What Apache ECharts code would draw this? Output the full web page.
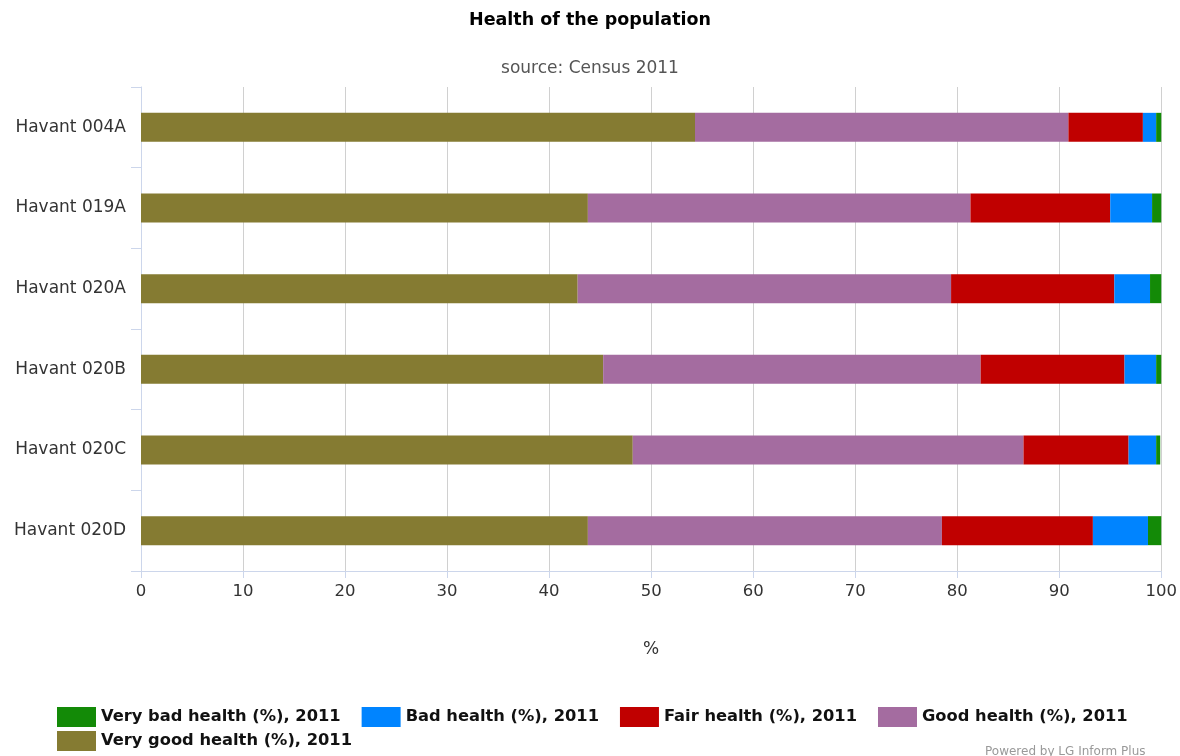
<!DOCTYPE html>
<html>
<head>
<meta charset="utf-8">
<script src="https://cdn.jsdelivr.net/npm/echarts@6/dist/echarts.min.js"></script>
<style>html,body{margin:0;padding:0;background:#fff;}#c{width:1180px;height:756px;}</style>
</head>
<body>
<div id="c"></div>
<script>
const categories = ['Havant 004A','Havant 019A','Havant 020A','Havant 020B','Havant 020C','Havant 020D'];
const veryGood = [54.3, 43.8, 42.8, 45.3, 48.2, 43.8];
const good     = [36.6, 37.5, 36.6, 37.0, 38.3, 34.7];
const fair     = [7.3, 13.7, 16.0, 14.1, 10.3, 14.8];
const bad      = [1.3, 4.1, 3.5, 3.1, 2.7, 5.4];
const veryBad  = [0.5, 0.9, 1.1, 0.5, 0.4, 1.3];
const xTicks = [0,10,20,30,40,50,60,70,80,90,100];

const FONT = "'DejaVu Sans',sans-serif";
const names = ['Very bad health (%), 2011','Bad health (%), 2011','Fair health (%), 2011','Good health (%), 2011','Very good health (%), 2011'];
const colors = {
  vg: '#857b32', g: '#a46ca0', f: '#c00000', b: '#0084ff', vb: '#138a07'
};
function s(name, data, color){
  return {name, type:'bar', stack:'total', data, barWidth:29,
    itemStyle:{color}, emphasis:{disabled:true}};
}
const legendBase = {itemWidth:39, itemHeight:20, itemGap:21, icon:'rect', padding:0,
  textStyle:{fontSize:16.3, fontWeight:'bold', color:'#111', fontFamily:FONT}};
const chart = echarts.init(document.getElementById('c'));
chart.setOption({
  animation:false,
  textStyle:{fontFamily:FONT},
  title:[
    {text:'Health of the population', left:'center', top:6,
     textStyle:{fontSize:17.5, fontWeight:'bold', color:'#000', fontFamily:FONT}},
    {text:'source: Census 2011', left:'center', top:55,
     textStyle:{fontSize:17, fontWeight:'normal', color:'#555', fontFamily:FONT}}
  ],
  grid:{left:141, right:18, top:87, bottom:185, containLabel:false},
  xAxis:{type:'value', min:0, max:100, interval:10,
    name:'%', nameLocation:'middle', nameGap:70,
    nameTextStyle:{fontSize:17, color:'#333', fontFamily:FONT},
    axisLine:{show:true, lineStyle:{color:'#ccd6eb'}},
    axisTick:{show:true, length:7, lineStyle:{color:'#ccd6eb'}},
    axisLabel:{fontSize:16.5, color:'#333', margin:12, fontFamily:FONT,
      formatter:(v)=> xTicks.includes(v) ? String(v) : ''},
    splitLine:{show:true, lineStyle:{color:'#d0d0d0'}}
  },
  yAxis:{type:'category', data:categories, inverse:true,
    axisLine:{show:true, lineStyle:{color:'#ccd6eb'}},
    axisTick:{show:true, length:10, lineStyle:{color:'#ccd6eb'}},
    axisLabel:{fontSize:17, color:'#333', margin:15, fontFamily:FONT}
  },
  legend:[
    Object.assign({left:57, top:707, data:names.slice(0,4)}, legendBase),
    Object.assign({left:57, top:731, data:names.slice(4)}, legendBase)
  ],
  graphic:[{type:'text', left:985, top:746,
    style:{text:'Powered by LG Inform Plus', fontSize:12, fill:'#999', fontFamily:FONT}}],
  series:[
    s(names[4], veryGood, colors.vg),
    s(names[3], good, colors.g),
    s(names[2], fair, colors.f),
    s(names[1], bad, colors.b),
    s(names[0], veryBad, colors.vb)
  ]
});
</script>
</body>
</html>
